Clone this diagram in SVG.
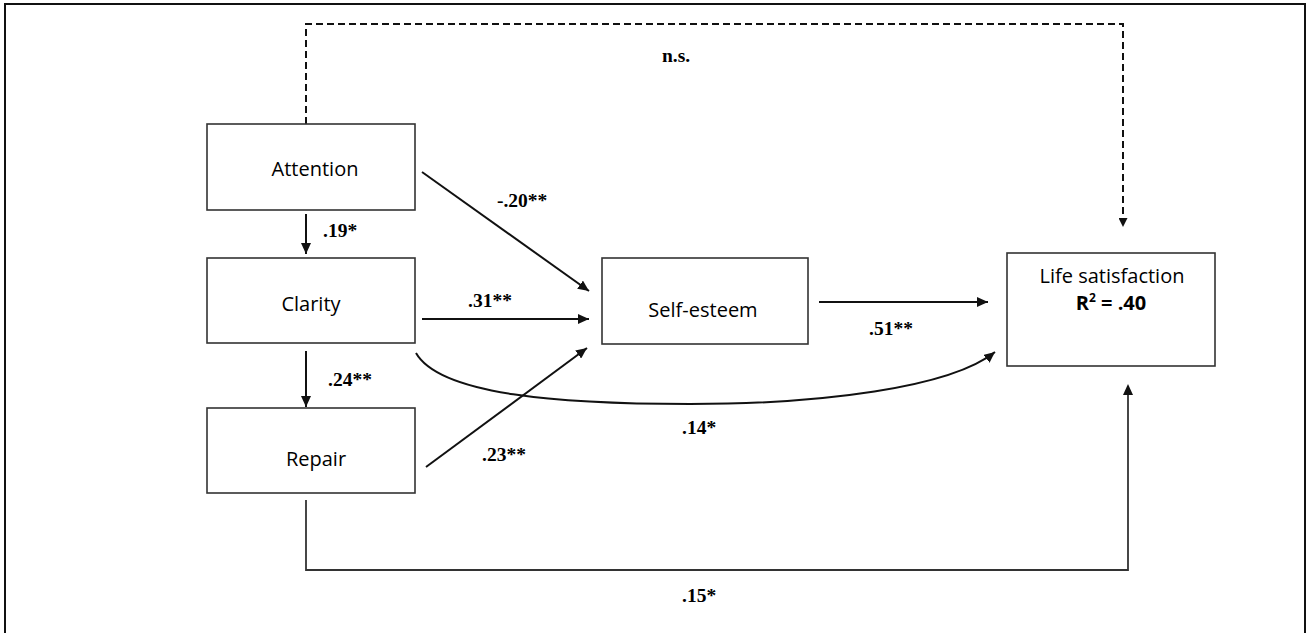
<svg xmlns="http://www.w3.org/2000/svg" width="1306" height="633" viewBox="0 0 1306 633">
<style>
.box{fill:#fff;stroke:#333;stroke-width:1.6}
.nl{font-family:"Open Sans","Liberation Sans",sans-serif;font-size:20px;fill:#000;text-anchor:middle}
.el{font-family:"Liberation Serif","Times New Roman",serif;font-size:19.5px;font-weight:bold;fill:#000}
.ar{fill:none;stroke:#111;stroke-width:2;marker-end:url(#ah)}
.ln{fill:none;stroke:#333;stroke-width:1.8}
</style>
<defs>
<marker id="ah" markerUnits="userSpaceOnUse" markerWidth="12" markerHeight="10" refX="11" refY="5" orient="auto">
<path d="M0,0 L11,5 L0,10 Z" fill="#111"/>
</marker>
<marker id="ahs" markerUnits="userSpaceOnUse" markerWidth="10" markerHeight="9" refX="9" refY="4.5" orient="auto">
<path d="M0,0 L9,4.5 L0,9 Z" fill="#111"/>
</marker>
</defs>
<rect width="1306" height="633" fill="#fff"/>
<path d="M5,633 V4 H1305 V633" fill="none" stroke="#111" stroke-width="2"/>

<g id="connectors">
<path d="M306,124 V24 H1123 V227" fill="none" stroke="#111" stroke-width="2" stroke-dasharray="7 4" marker-end="url(#ahs)"/>
<line class="ar" x1="306" y1="214" x2="306" y2="254"/>
<line class="ar" x1="306" y1="351" x2="306" y2="407"/>
<line class="ar" x1="422" y1="172" x2="589" y2="291"/>
<line class="ar" x1="422" y1="319" x2="589" y2="319"/>
<line class="ar" x1="426" y1="467" x2="587" y2="348"/>
<line class="ar" x1="819" y1="302" x2="988" y2="302"/>
<path class="ar" d="M416,353 C440,395 560,404 690,404 C820,404 950,388 995,352"/>
<path class="ln" d="M306,500 V570 H1128 V394"/>
<path d="M1128,384 L1123,395 L1133,395 Z" fill="#111"/>
</g>

<g id="labels">
<text class="el" x="662" y="62" font-size="18">n.s.</text>
<text class="el" x="323" y="237">.19*</text>
<text class="el" x="497" y="207">-.20**</text>
<text class="el" x="468" y="307">.31**</text>
<text class="el" x="328" y="386">.24**</text>
<text class="el" x="482" y="461">.23**</text>
<text class="el" x="869" y="335">.51**</text>
<text class="el" x="682" y="434">.14*</text>
<text class="el" x="682" y="602">.15*</text>
</g>

<g id="attention">
<rect class="box" x="207" y="124" width="208" height="86"/>
<text class="nl" x="315" y="176">Attention</text>
</g>
<g id="clarity">
<rect class="box" x="207" y="258" width="208" height="85"/>
<text class="nl" x="311" y="311">Clarity</text>
</g>
<g id="repair">
<rect class="box" x="207" y="408" width="208" height="85"/>
<text class="nl" x="316" y="466">Repair</text>
</g>
<g id="self-esteem">
<rect class="box" x="602" y="258" width="206" height="86"/>
<text class="nl" x="703" y="317">Self-esteem</text>
</g>
<g id="life-satisfaction">
<rect class="box" x="1007" y="253" width="208" height="113"/>
<text class="nl" x="1112" y="283">Life satisfaction</text>
<text class="nl" x="1111" y="310" font-weight="bold">R<tspan font-size="12" dy="-8">2</tspan><tspan dy="8"> = .40</tspan></text>
</g>
</svg>
